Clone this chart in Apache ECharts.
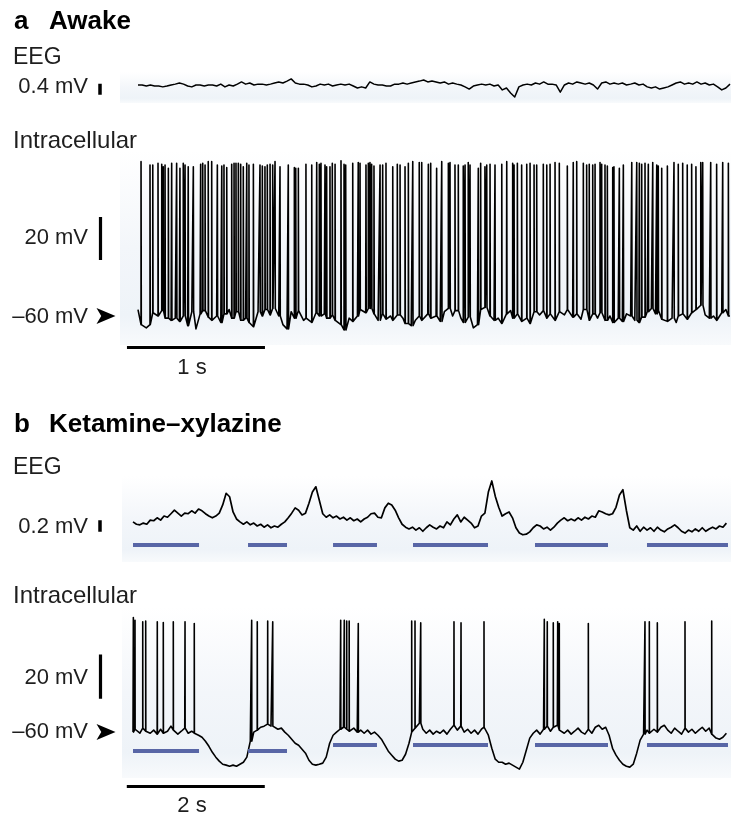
<!DOCTYPE html>
<html>
<head>
<meta charset="utf-8">
<script src="https://cdn.jsdelivr.net/npm/echarts@6/dist/echarts.min.js"></script>
<style>
  html, body { margin: 0; padding: 0; background: #ffffff; }
  #chart { width: 731px; height: 814px; }
</style>
</head>
<body>
<div id="chart"></div>
<script>
// ---------------- recorded traces ----------------
// Awake: EEG (mV) and membrane potential (mV), sampled every 30 ms
const awakeStep = 0.03;
const awakeEeg = [
  0.02, 0.02, -0.02, 0.02, -0.02, -0.02, -0.05, -0.02, 0.02, 0.05,
  0.09, 0.05, -0.02, -0.05, 0.02, 0.02, -0.02, 0.02, 0.02, -0.02,
  0.05, -0.05, 0.02, -0.02, 0.05, 0.13, 0.05, 0.09, 0.02, 0.05,
  0.05, 0.02, 0.05, 0.09, 0.13, 0.09, 0.16, 0.24, 0.09, 0.05,
  0.05, 0.02, -0.05, -0.02, 0.05, 0.02, 0.05, -0.02, 0.02, 0.05,
  0.02, 0.05, -0.02, -0.09, -0.05, -0.09, 0.13, 0.05, 0.02, 0.02,
  -0.02, -0.02, 0.05, 0.05, 0.09, 0.05, 0.09, 0.13, 0.16, 0.2,
  0.13, 0.16, 0.13, 0.09, 0.13, 0.05, 0.09, 0.05, 0.02, -0.05,
  -0.13, -0.02, 0.02, 0.05, 0.02, 0.05, -0.02, 0.02, -0.16, -0.09,
  -0.27, -0.42, -0.05, 0.02, 0.05, 0.02, 0.09, 0.05, 0.13, 0.05,
  0.05, 0.02, -0.24, 0.02, 0.09, 0.05, 0.13, 0.09, 0.05, 0.09,
  0.02, -0.13, 0.09, 0.13, 0.05, 0.09, 0.05, 0.09, 0.02, 0.05,
  0.09, 0.02, 0.05, -0.05, -0.09, -0.05, -0.13, -0.09, -0.05, 0.02,
  0.09, 0.13, 0.05, 0.09, 0.05, 0.13, 0.05, 0.09, 0.02, 0.05,
  -0.05, -0.16, -0.09, 0.05
];
const awakeVm = [
  -57, -64, -65.5, -64, -58.5, -60, -57.5, -61, -62, -61,
  -62.5, -60, -64.5, -58, -66, -59, -57.5, -60.5, -62, -60,
  -63, -59, -57, -61, -58, -62, -61, -63, -65, -58,
  -60, -57, -59.5, -56.5, -60, -64, -66, -58, -61, -57.5,
  -62, -61, -63, -58.5, -60, -59, -61, -59.5, -62, -64,
  -66.5, -61, -62.5, -60, -57, -58.5, -56.5, -59, -62, -59,
  -61.5, -60, -62, -59.5, -61, -63.5, -64.5, -62, -60, -62,
  -59, -61, -60, -62.5, -58, -56.5, -60, -57.5, -61, -63,
  -60.5, -65.5, -64, -57, -56, -60, -62, -61, -63.5, -59,
  -57.5, -61, -59, -62.5, -61, -63.5, -58, -59.5, -57.5, -61,
  -59, -62, -58, -59.5, -57, -60.5, -59, -61.5, -57, -62,
  -59, -61, -58.5, -62, -60, -63, -61, -62.5, -59, -60,
  -62, -63, -60.5, -58, -56.5, -59, -57.5, -61.5, -62.5, -61,
  -63, -60, -59, -61.5, -58.5, -57, -55, -59.5, -61, -60,
  -62, -58.5, -57, -60
];
// Awake action potentials: [time (s), peak (mV)]
const awakeSpikes = [
  [0.022, 11.8], [0.087, 10.2], [0.107, 10.2], [0.145, 11.0], [0.172, 10.6], [0.183, 9.4], [0.196, 10.2], [0.220, 8.7],
  [0.244, 11.0], [0.280, 11.0], [0.304, 8.7], [0.328, 11.0], [0.341, 10.2], [0.364, 9.4], [0.401, 9.4], [0.454, 10.6],
  [0.469, 11.0], [0.486, 10.2], [0.509, 11.8], [0.534, 11.8], [0.575, 10.2], [0.607, 9.8], [0.623, 10.2], [0.643, 9.0],
  [0.679, 10.6], [0.696, 11.0], [0.710, 11.0], [0.727, 11.0], [0.744, 10.6], [0.763, 9.4], [0.788, 11.0], [0.804, 10.2],
  [0.836, 10.6], [0.884, 10.2], [0.901, 9.8], [0.920, 9.4], [0.937, 10.2], [0.957, 10.6], [0.976, 10.2], [0.993, 11.8],
  [1.029, 9.4], [1.089, 10.2], [1.133, 9.0], [1.143, 8.7], [1.162, 8.7], [1.217, 10.6], [1.259, 10.2], [1.295, 11.4],
  [1.314, 10.6], [1.326, 11.0], [1.355, 10.2], [1.367, 9.4], [1.391, 9.4], [1.408, 11.0], [1.428, 10.6], [1.471, 12.2],
  [1.493, 10.6], [1.505, 10.2], [1.556, 11.0], [1.596, 11.4], [1.609, 11.0], [1.652, 10.2], [1.669, 11.0], [1.681, 11.4],
  [1.693, 10.6], [1.710, 9.8], [1.754, 10.2], [1.773, 10.2], [1.797, 11.0], [1.846, 9.4], [1.879, 10.6], [1.899, 10.2],
  [1.935, 9.4], [1.959, 11.0], [1.991, 11.8], [2.038, 11.4], [2.056, 11.4], [2.104, 10.6], [2.121, 11.0],
  [2.164, 8.7], [2.201, 11.8], [2.249, 11.0], [2.261, 11.4], [2.297, 10.2], [2.321, 10.2], [2.357, 9.8], [2.370, 10.2],
  [2.393, 11.4], [2.406, 10.2], [2.466, 8.7], [2.483, 11.0], [2.514, 9.4], [2.527, 10.2], [2.551, 10.6], [2.587, 10.2],
  [2.636, 10.6], [2.672, 11.8], [2.715, 11.0], [2.725, 10.2], [2.749, 11.0], [2.780, 10.2], [2.817, 10.6], [2.841, 11.0],
  [2.870, 10.2], [2.889, 10.2], [2.937, 10.6], [2.962, 10.2], [2.986, 10.6], [3.022, 11.4], [3.053, 11.0], [3.111, 9.8],
  [3.154, 11.4], [3.179, 11.8],
  [3.227, 11.0], [3.251, 10.2], [3.270, 10.6], [3.295, 10.2], [3.312, 10.6], [3.348, 11.4], [3.360, 10.6], [3.384, 10.2],
  [3.401, 9.8], [3.440, 9.0], [3.449, 9.4], [3.488, 8.7], [3.517, 10.2], [3.578, 11.4], [3.614, 11.4], [3.633, 11.0],
  [3.650, 10.6], [3.674, 11.0], [3.698, 10.6], [3.730, 11.4], [3.759, 10.2], [3.770, 9.8], [3.795, 8.7], [3.836, 9.8],
  [3.884, 11.4], [3.915, 10.6], [3.947, 11.0], [3.980, 10.2], [4.012, 10.6], [4.043, 9.4], [4.078, 11.4], [4.092, 11.4],
  [4.150, 11.4], [4.193, 10.6], [4.237, 11.4], [4.278, 11.0]
];

// Ketamine–xylazine: EEG (mV) and membrane potential (mV), sampled every 50 ms
const ketStep = 0.05;
const ketEeg = [
  0.01, -0.03, -0.04, -0.01, -0.03, 0.04, 0.03, 0.08, 0.04, 0.11,
  0.09, 0.15, 0.21, 0.16, 0.11, 0.16, 0.15, 0.2, 0.16, 0.23,
  0.2, 0.15, 0.11, 0.08, 0.11, 0.16, 0.3, 0.5, 0.44, 0.18,
  0.06, 0.01, -0.03, 0.01, -0.04, -0.01, -0.06, -0.03, -0.08, -0.04,
  -0.09, -0.06, -0.08, -0.03, 0.01, 0.08, 0.16, 0.25, 0.21, 0.13,
  0.16, 0.33, 0.52, 0.61, 0.38, 0.15, 0.09, 0.13, 0.08, 0.11,
  0.06, 0.09, 0.04, 0.08, 0.03, 0.06, 0.01, 0.06, 0.09, 0.15,
  0.16, 0.09, 0.08, 0.25, 0.33, 0.3, 0.21, 0.08, -0.03, -0.08,
  -0.11, -0.08, -0.13, -0.09, -0.15, -0.09, -0.04, -0.08, -0.11, -0.06,
  -0.09, 0.01, -0.04, 0.06, 0.13, 0.01, 0.09, 0.04, -0.01, -0.09,
  -0.06, 0.11, 0.16, 0.52, 0.71, 0.45, 0.26, 0.11, 0.15, 0.18,
  0.08, -0.09, -0.18, -0.21, -0.2, -0.16, -0.09, -0.04, -0.06, -0.11,
  -0.08, -0.13, -0.08, -0.01, 0.04, 0.08, 0.03, 0.06, 0.03, 0.08,
  0.04, 0.09, 0.06, 0.11, 0.09, 0.2, 0.18, 0.15, 0.13, 0.15,
  0.26, 0.47, 0.56, 0.21, -0.09, -0.13, -0.06, -0.15, -0.08, -0.13,
  -0.09, -0.15, -0.08, -0.13, -0.16, -0.11, -0.08, -0.04, -0.09, -0.15,
  -0.18, -0.13, -0.16, -0.11, -0.15, -0.09, -0.15, -0.11, -0.08, -0.11,
  -0.06, -0.08, -0.01
];
const ketVm = [
  -60.1, -58.8, -60.6, -58.3, -59.7, -60.6, -59.2, -61.0, -58.8, -60.6,
  -59.7, -57.4, -59.2, -61.0, -59.7, -58.3, -60.6, -59.7, -60.6, -61.5,
  -62.4, -64.2, -66.5, -69.2, -71.4, -73.2, -74.6, -75.0, -75.5, -75.0,
  -75.5, -74.6, -73.7, -71.4, -64.2, -60.1, -59.2, -57.9, -57.4, -56.5,
  -57.4, -57.9, -58.8, -58.3, -60.1, -61.5, -63.3, -65.1, -66.0, -67.8,
  -69.6, -72.8, -74.6, -75.0, -74.6, -74.1, -71.4, -65.1, -61.5, -60.1,
  -58.8, -57.9, -58.8, -59.7, -58.3, -60.1, -59.2, -60.6, -59.2, -61.0,
  -60.1, -61.5, -63.3, -66.0, -68.7, -70.5, -72.3, -73.2, -72.8, -70.1,
  -65.1, -60.1, -58.3, -56.1, -58.8, -60.6, -59.2, -61.0, -59.7, -60.6,
  -59.2, -61.0, -58.8, -57.0, -59.2, -57.4, -60.1, -58.8, -60.6, -59.2,
  -61.0, -58.8, -57.9, -61.5, -67.4, -72.3, -73.7, -73.7, -74.6, -74.1,
  -75.0, -75.9, -76.8, -73.7, -68.3, -62.8, -60.6, -59.2, -61.0, -58.8,
  -57.4, -59.7, -57.9, -57.0, -59.2, -60.6, -59.2, -61.0, -59.7, -58.3,
  -60.1, -61.0, -58.8, -60.6, -57.9, -57.0, -58.8, -57.9, -61.5, -67.4,
  -70.5, -72.8, -74.6, -75.5, -75.9, -74.6, -69.6, -63.7, -61.0, -59.2,
  -60.6, -58.8, -60.1, -57.9, -57.0, -59.2, -60.6, -58.3, -59.7, -61.0,
  -58.3, -60.1, -58.8, -60.6, -59.2, -57.9, -59.7, -58.3, -61.0, -62.8,
  -63.3, -62.4, -60.6
];
// Ketamine–xylazine action potentials: [time (s), peak (mV)]
const ketSpikes = [
  [0.005, -8.4], [0.029, -9.6], [0.141, -10.3], [0.184, -10.0], [0.352, -10.3], [0.439, -10.6], [0.584, -10.3],
  [0.754, -10.3], [0.888, -11.1],
  [1.720, -9.6], [1.801, -10.3], [1.952, -10.0], [2.025, -10.3],
  [3.010, -9.6], [3.062, -9.6], [3.097, -10.0], [3.133, -10.0], [3.265, -11.1],
  [4.039, -10.0], [4.087, -10.0], [4.170, -10.8], [4.652, -10.3], [4.754, -10.8], [5.087, -10.3],
  [5.961, -9.2], [6.004, -10.3], [6.091, -10.8], [6.155, -10.3], [6.178, -11.1], [6.599, -11.1],
  [7.420, -10.3], [7.483, -10.3], [7.599, -10.8], [8.000, -10.3], [8.387, -10.0]
];
// Up states: [start (s), end (s)] and the level of each marker under the Vm trace (mV)
const upStates = [[0, 0.957], [1.667, 2.232], [2.899, 3.536], [4.058, 5.145], [5.826, 6.884], [7.449, 8.623]];
const upStateVmLevel = [-68.7, -68.7, -65.6, -65.6, -65.6, -65.6];
const upStateEegLevel = -0.376;

// Scale bars
const awakeTimeBar = 1;      // s
const awakeEegBar = 0.4;     // mV
const awakeVmBar = 20;       // mV
const ketTimeBar = 2;        // s
const ketEegBar = 0.2;       // mV
const ketVmBar = 20;         // mV
const restingVm = -60;       // mV, arrow marker

// ---------------- helpers ----------------
const FONT = '"Liberation Sans", Arial, Helvetica, sans-serif';
const INK = '#000000';
const UP_BLUE = '#5866a6';

function sampled(values, step) {
  return values.map((v, i) => [+(i * step).toFixed(4), v]);
}

// Membrane trace with spikes: each spike rises from the nearest sample to its peak
function withSpikes(values, step, spikes) {
  const pts = [];
  let k = 0;
  const pushSpike = (s) => {
    const idx = Math.min(values.length - 1, Math.round(s[0] / step));
    const foot = values[idx];
    pts.push([s[0], foot], [s[0], s[1]], [s[0] + 0.002, foot]);
  };
  for (let i = 0; i < values.length; i++) {
    const t = +(i * step).toFixed(4);
    while (k < spikes.length && spikes[k][0] < t) { pushSpike(spikes[k]); k++; }
    pts.push([t, values[i]]);
  }
  while (k < spikes.length) { pushSpike(spikes[k]); k++; }
  return pts;
}

function segLines(name, xi, segs, color, width) {
  return {
    name, type: 'lines', coordinateSystem: 'cartesian2d', xAxisIndex: xi, yAxisIndex: xi,
    silent: true, z: 4,
    lineStyle: { color, width, opacity: 1, curveness: 0, cap: 'butt' },
    data: segs.map(c => ({ coords: c }))
  };
}

function traceSeries(name, xi, data, width) {
  return {
    name, type: 'line', xAxisIndex: xi, yAxisIndex: xi, data,
    showSymbol: false, symbol: 'none', silent: true, z: 3,
    lineStyle: { color: INK, width, join: 'round' }
  };
}

function text(str, x, y, size, opts) {
  return {
    type: 'text', x, y, z: 20, silent: true,
    style: Object.assign({
      text: str, font: `${size}px ${FONT}`, fill: '#1e1e1e',
      align: 'left', verticalAlign: 'middle'
    }, opts || {})
  };
}

function panelBg(x, y, w, h) {
  return {
    type: 'rect', z: 0, silent: true,
    shape: { x, y, width: w, height: h },
    style: {
      fill: new echarts.graphic.LinearGradient(0, 0, 0, 1, [
        { offset: 0, color: '#ffffff' },
        { offset: 0.5, color: '#f3f6fa' },
        { offset: 0.85, color: '#eef3f8' },
        { offset: 1, color: '#f8fafc' }
      ])
    }
  };
}

// ---------------- layout (time axes share the panel width) ----------------
const awakeX = { min: -1, max: 4.2971 };
const ketX = { min: -1.92754, max: 8.66667 };

const grids = [
  { left: 0, width: 731, top: 58, height: 55 },     // awake EEG
  { left: 0, width: 731, top: 144, height: 215 },   // awake Vm
  { left: 0, width: 731, top: 464, height: 117 },   // ketamine EEG
  { left: 0, width: 731, top: 599, height: 199.35 } // ketamine Vm
];
const xAxes = [awakeX, awakeX, ketX, ketX].map((r, i) => ({
  type: 'value', gridIndex: i, min: r.min, max: r.max, show: false
}));
const yAxes = [[-1, 1], [-80, 20], [-1, 1], [-90, 0]].map((r, i) => ({
  type: 'value', gridIndex: i, min: r[0], max: r[1], show: false
}));

const arrowPath = 'path://M0,0 L18,7.5 L0,15 L4.5,7.5 Z';

const series = [
  traceSeries('awake EEG', 0, sampled(awakeEeg, awakeStep), 1.5),
  traceSeries('awake Vm', 1, withSpikes(awakeVm, awakeStep, awakeSpikes), 1.6),
  traceSeries('ketamine EEG', 2, sampled(ketEeg, ketStep), 1.7),
  traceSeries('ketamine Vm', 3, withSpikes(ketVm, ketStep, ketSpikes), 1.6),

  segLines('up states EEG', 2, upStates.map(u => [[u[0], upStateEegLevel], [u[1], upStateEegLevel]]), UP_BLUE, 4),
  segLines('up states Vm', 3, upStates.map((u, i) => [[u[0], upStateVmLevel[i]], [u[1], upStateVmLevel[i]]]), UP_BLUE, 4),

  // scale bars
  segLines('awake EEG scale', 0, [[[-0.275, 0.06 - awakeEegBar], [-0.275, 0.06]]], INK, 3.5),
  segLines('awake Vm scale', 1, [[[-0.275, -14 - awakeVmBar], [-0.275, -14]],
                                 [[-0.08, -74.7], [-0.08 + awakeTimeBar, -74.7]]], INK, 3.2),
  segLines('ketamine EEG scale', 2, [[[-0.478, 0.04 - ketEegBar], [-0.478, 0.04]]], INK, 3.5),
  segLines('ketamine Vm scale', 3, [[[-0.478, -25 - ketVmBar], [-0.478, -25]],
                                    [[-0.09, -84.5], [-0.09 + ketTimeBar, -84.5]]], INK, 3.2),

  // resting potential arrows
  {
    type: 'scatter', xAxisIndex: 1, yAxisIndex: 1, silent: true, z: 5,
    symbol: arrowPath, symbolSize: [19, 16], itemStyle: { color: '#000', opacity: 1 },
    data: [[-0.232, restingVm]]
  },
  {
    type: 'scatter', xAxisIndex: 3, yAxisIndex: 3, silent: true, z: 5,
    symbol: arrowPath, symbolSize: [19, 16], itemStyle: { color: '#000', opacity: 1 },
    data: [[-0.391, restingVm]]
  }
];

const graphics = [
  panelBg(120, 72, 611, 31),
  panelBg(120, 150, 611, 195),
  panelBg(122, 476, 609, 86),
  panelBg(122, 607, 609, 171),

  text('a', 14, 22, 26, { font: `bold 26px ${FONT}`, fill: '#000' }),
  text('Awake', 49, 22, 26, { font: `bold 26px ${FONT}`, fill: '#000' }),
  text('EEG', 13, 58, 23),
  text('0.4 mV', 88, 87, 22, { align: 'right' }),
  text('Intracellular', 13, 141, 24),
  text('20 mV', 88, 238, 22, { align: 'right' }),
  text('\u201360 mV', 88, 317, 22, { align: 'right' }),
  text('1 s', 192, 368, 22, { align: 'center' }),

  text('b', 14, 425, 26, { font: `bold 26px ${FONT}`, fill: '#000' }),
  text('Ketamine\u2013xylazine', 49, 425, 26, { font: `bold 26px ${FONT}`, fill: '#000' }),
  text('EEG', 13, 468, 23),
  text('0.2 mV', 88, 527, 22, { align: 'right' }),
  text('Intracellular', 13, 596, 24),
  text('20 mV', 88, 678, 22, { align: 'right' }),
  text('\u201360 mV', 88, 732, 22, { align: 'right' }),
  text('2 s', 192, 806, 22, { align: 'center' })
];

const chart = echarts.init(document.getElementById('chart'), null, { renderer: 'canvas' });
chart.setOption({
  animation: false,
  backgroundColor: '#ffffff',
  grid: grids,
  xAxis: xAxes,
  yAxis: yAxes,
  series,
  graphic: graphics
});
</script>
</body>
</html>
